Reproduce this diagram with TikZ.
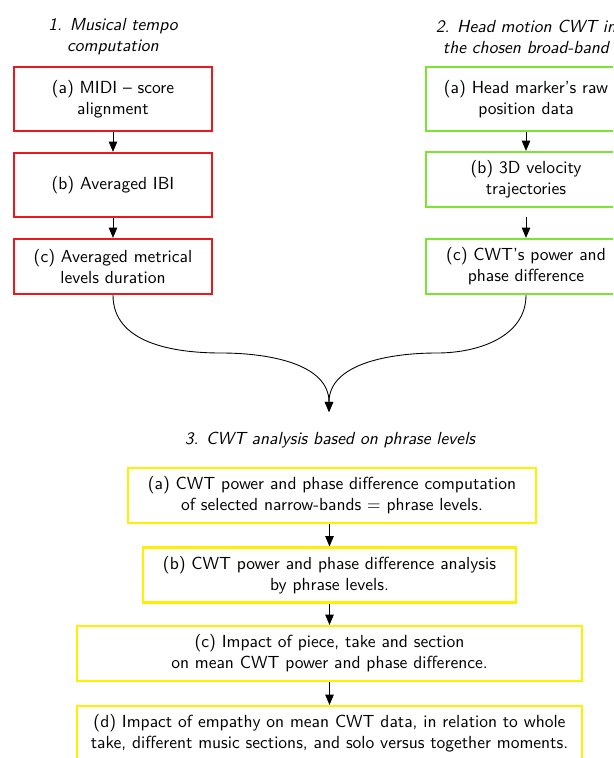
\documentclass[tikz,border=0pt]{standalone}
\usepackage{tikz}
\usetikzlibrary{arrows.meta,positioning}
\definecolor{tempored}{RGB}{235,25,30}
\definecolor{headgreen}{RGB}{125,228,50}
\definecolor{cwtyellow}{RGB}{255,240,0}
\tikzset{%
  stage/.style={draw, rectangle, line width=1.3pt, align=center, font=\sffamily, inner sep=2pt},
  tempo/.style={stage, draw=tempored, minimum width=113pt},% step 1 boxes
  head/.style={stage, draw=headgreen, minimum width=114pt},% step 2 boxes
  cwt/.style={stage, draw=cwtyellow, minimum height=31.4pt},% step 3 boxes
  heading/.style={font=\sffamily\itshape, align=center},% step titles
  flow/.style={-{Triangle[length=5.8pt,width=4.8pt]}, line width=0.5pt}% arrows
}

\begin{document}
\begin{tikzpicture}[x=0.5714pt, y=0.5714pt]
\useasboundingbox (0,0) rectangle (613,-758);
\clip (0,0) rectangle (613,-758);

% 1. musical tempo
\node[heading] (t1) at (113,-37) {1. Musical tempo\\computation};
\node[tempo, minimum height=36.6pt] (la) at (113,-99) {(a) MIDI -- score\\alignment};
\node[tempo, minimum height=36.6pt] (lb) at (113,-185) {(b) Averaged IBI};
\node[tempo, minimum height=31.4pt] (lc) at (113,-266.5) {(c) Averaged metrical\\levels duration};
\draw[flow] (la) -- (lb);
\draw[flow] (lb) -- (lc);

% 2. head motion
\node[heading] (t2) at (526,-37) {2. Head motion CWT in\\the chosen broad-band};
\node[head, minimum height=36.6pt] (ra) at (526,-99) {(a) Head marker's raw\\position data};
\node[head, minimum height=31.4pt] (rb) at (526,-179.5) {(b) 3D velocity\\trajectories};
\node[head, minimum height=31.4pt] (rc) at (526,-266.5) {(c) CWT's power and\\phase difference};
\draw[flow] (ra) -- (rb);
\draw[flow, shorten <=5pt] (rb) -- (rc);

% merge
\coordinate (join) at (329,-412);
\coordinate (lbend) at (221,-353);
\coordinate (rbend) at (437,-353);
\draw[flow] (lc.south) to[out=-90, in=180] (lbend) to[out=0, in=90] (join);
\draw[flow] (rc.south) to[out=-90, in=0] (rbend) to[out=180, in=90] (join);

% 3. CWT analysis
\node[heading] (t3) at (330,-440) {3. CWT analysis based on phrase levels};
\node[cwt, minimum width=233.1pt] (ya) at (332,-495.5) {(a) CWT power and phase difference computation\\of selected narrow-bands = phrase levels.};
\node[cwt, minimum width=213.1pt] (yb) at (329.5,-575) {(b) CWT power and phase difference analysis\\by phrase levels.};
\node[cwt, minimum width=288.6pt] (yc) at (329.5,-653.5) {(c) Impact of piece, take and section\\on mean CWT power and phase difference.};
\node[cwt, minimum width=288.6pt] (yd) at (329.5,-733.5) {(d) Impact of empathy on mean CWT data, in relation to whole\\take, different music sections, and solo versus together moments.};
\draw[flow] (ya.south -| yb) -- (yb);
\draw[flow] (yb) -- (yc);
\draw[flow] (yc) -- (yd);

\end{tikzpicture}
\end{document}
